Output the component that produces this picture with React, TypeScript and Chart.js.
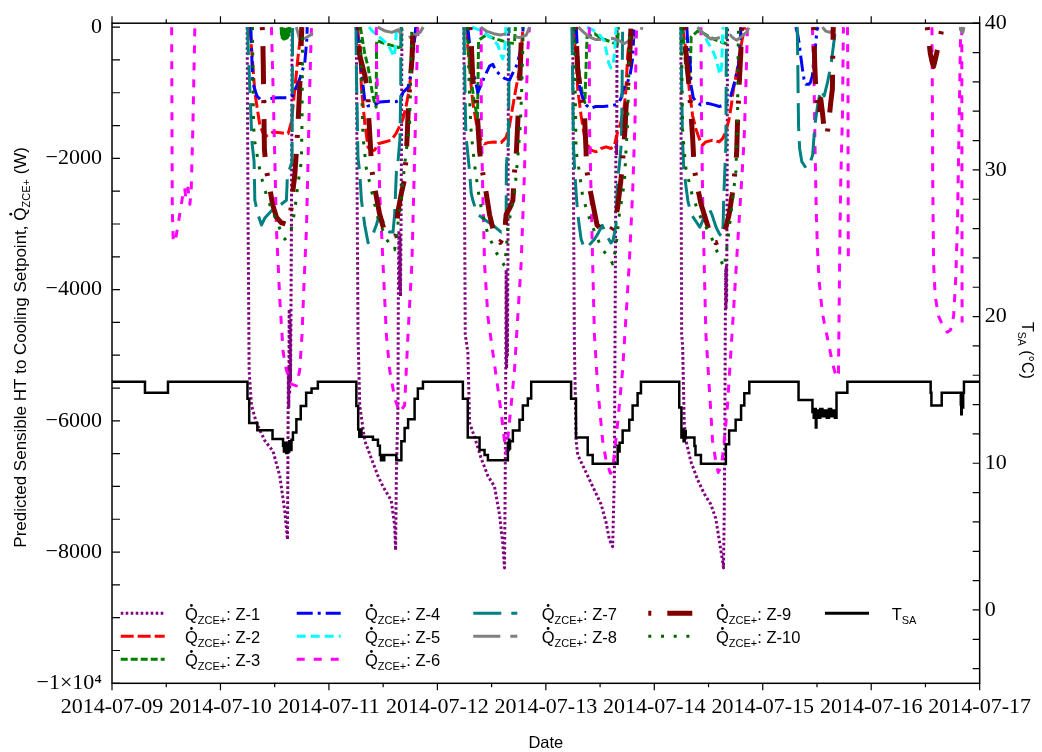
import React, { useEffect, useRef } from "react";
import { Chart, registerables } from "chart.js";
Chart.register(...registerables);

type Seg = number[][];

// ---------- axis categories / tick labels ----------
const dateLabels = ["2014-07-09", "2014-07-10", "2014-07-11", "2014-07-12", "2014-07-13", "2014-07-14", "2014-07-15", "2014-07-16", "2014-07-17"];
const dayTicks = [0, 1, 2, 3, 4, 5, 6, 7, 8];
const qTicks = [-10000, -8000, -6000, -4000, -2000, 0];
const tTicks = [0, 10, 20, 30, 40];

// ---------- series (x = days since 2014-07-09 00:00, y = W) ----------
const Z1: Seg[] = [
  [[1.246,0],[1.255,-3070],[1.264,-5225],[1.286,-5763],[1.332,-6033],[1.409,-6302],[1.485,-6464],[1.547,-6840],[1.593,-7379],[1.618,-7810],[1.622,-6500],[1.626,-5200],[1.63,-5800],[1.634,-4300],[1.638,-5600],[1.642,-4500],[1.646,-5400],[1.65,-4400],[1.654,-3070],[1.658,-1500],[1.66,0]],
  [[2.253,0],[2.26,-2500],[2.268,-4686],[2.284,-5763],[2.33,-6302],[2.391,-6571],[2.452,-6840],[2.499,-7002],[2.575,-7217],[2.606,-7594],[2.615,-7972],[2.622,-6840],[2.637,-5763],[2.64,-4100],[2.645,-3100],[2.65,-4000],[2.655,-3200],[2.66,-4100],[2.665,-3000],[2.67,-1454],[2.673,0]],
  [[3.244,0],[3.25,-2500],[3.257,-4686],[3.281,-4955],[3.297,-6033],[3.343,-6248],[3.404,-6571],[3.466,-6840],[3.527,-7002],[3.573,-7433],[3.603,-7864],[3.619,-8241],[3.625,-7000],[3.63,-5400],[3.634,-3700],[3.638,-5200],[3.642,-3900],[3.646,-5000],[3.65,-3700],[3.653,-2000],[3.655,0]],
  [[4.248,0],[4.255,-2500],[4.263,-4848],[4.279,-6302],[4.294,-6517],[4.34,-6679],[4.386,-6840],[4.448,-7056],[4.509,-7271],[4.555,-7541],[4.586,-7810],[4.616,-7918],[4.632,-6840],[4.638,-4686],[4.643,-3000],[4.646,-1800],[4.65,-1650],[4.653,-1950],[4.655,-1000],[4.656,0]],
  [[5.245,0],[5.248,-2500],[5.252,-4686],[5.261,-4848],[5.276,-6033],[5.292,-6302],[5.338,-6625],[5.399,-6894],[5.46,-7110],[5.521,-7271],[5.567,-7487],[5.598,-7810],[5.629,-8133],[5.638,-8241],[5.644,-7500],[5.65,-6302],[5.655,-4400],[5.658,-3700],[5.661,-4300],[5.664,-3650],[5.667,-4200],[5.67,-3000],[5.673,-1500],[5.675,0]],
];
const Z2: Seg[] = [
  [[1.271,0],[1.295,-500],[1.317,-995],[1.363,-1497],[1.409,-1674],[1.44,-1640],[1.485,-1598],[1.55,-1610],[1.624,-1624],[1.654,-1447],[1.685,-945],[1.716,-442],[1.747,0]],
  [[2.265,0],[2.284,-377],[2.3,-916],[2.33,-1454],[2.361,-1831],[2.391,-1885],[2.422,-1874],[2.452,-1777],[2.514,-1750],[2.575,-1723],[2.621,-1616],[2.652,-1508],[2.683,-1400],[2.714,-1185],[2.744,-916],[2.766,-485],[2.79,-162],[2.82,0]],
  [[3.27,0],[3.28,-300],[3.297,-600],[3.312,-900],[3.327,-1150],[3.358,-1450],[3.373,-1620],[3.404,-1720],[3.435,-1780],[3.466,-1760],[3.527,-1750],[3.588,-1760],[3.634,-1680],[3.665,-1500],[3.696,-1200],[3.726,-920],[3.757,-650],[3.772,-380],[3.787,-60],[3.79,0]],
  [[4.248,0],[4.279,-442],[4.294,-945],[4.325,-1347],[4.355,-1648],[4.386,-1799],[4.417,-1875],[4.463,-1900],[4.509,-1850],[4.555,-1825],[4.601,-1850],[4.632,-1799],[4.662,-1598],[4.693,-1447],[4.724,-1196],[4.739,-945],[4.754,-442],[4.769,-191],[4.8,0]],
  [[5.26,0],[5.291,-341],[5.322,-945],[5.353,-1347],[5.383,-1548],[5.414,-1699],[5.444,-1799],[5.475,-1749],[5.536,-1724],[5.598,-1749],[5.629,-1699],[5.659,-1598],[5.69,-1397],[5.71,-1196],[5.73,-945],[5.76,-693],[5.785,-442],[5.81,-191],[5.835,0]],
];
const Z3: Seg[] = [
  [[1.56,0],[1.563,-140],[1.566,-20],[1.569,-160],[1.572,-30],[1.575,-170],[1.578,-30],[1.581,-180],[1.584,-40],[1.587,-180],[1.59,-30],[1.593,-180],[1.596,-40],[1.599,-180],[1.602,-30],[1.605,-170],[1.608,-40],[1.611,-170],[1.614,-30],[1.617,-160],[1.62,-30],[1.623,-150],[1.626,-20],[1.629,-130],[1.632,-20],[1.635,-110],[1.64,0]],
  [[2.29,0],[2.31,-200],[2.33,-400],[2.36,-600],[2.38,-800],[2.4,-1000],[2.42,-1150],[2.435,-1220],[2.44,-200],[2.48,-230],[2.54,-260],[2.6,-290],[2.64,-310],[2.665,-300],[2.67,0]],
  [[3.275,0],[3.285,-300],[3.3,-600],[3.32,-900],[3.34,-1150],[3.36,-1300],[3.37,-1380],[3.38,-200],[3.45,-120],[3.52,-170],[3.6,-210],[3.67,-240],[3.71,-250],[3.72,0]],
  [[4.27,0],[4.28,-300],[4.3,-600],[4.32,-850],[4.34,-1050],[4.36,-1150],[4.38,-150],[4.45,-100],[4.5,-160],[4.56,-200],[4.62,-240],[4.66,-260],[4.67,0]],
  [[5.26,0],[5.27,-200],[5.28,-400],[5.29,-600],[5.31,-750],[5.33,-800],[5.34,-150],[5.4,-60],[5.45,-90],[5.5,-140],[5.56,-190],[5.62,-230],[5.66,-250],[5.67,0]],
];
const Z4: Seg[] = [
  [[1.28,0],[1.29,-500],[1.298,-850],[1.335,-1045],[1.39,-1150],[1.455,-1090],[1.519,-1075],[1.611,-1075],[1.667,-1045],[1.703,-895],[1.731,-790],[1.759,-640],[1.777,-550],[1.796,-190],[1.8,0]],
  [[2.25,0],[2.268,-190],[2.284,-442],[2.3,-700],[2.315,-900],[2.33,-1100],[2.36,-1200],[2.407,-1196],[2.468,-1140],[2.56,-1130],[2.621,-1136],[2.66,-1100],[2.683,-995],[2.729,-920],[2.76,-693],[2.775,-442],[2.79,-190],[2.8,0]],
  [[3.28,0],[3.3,-300],[3.327,-646],[3.373,-996],[3.435,-754],[3.481,-593],[3.511,-566],[3.542,-673],[3.619,-781],[3.665,-808],[3.695,-700],[3.726,-600],[3.757,-431],[3.787,-162],[3.79,0]],
  [[4.28,0],[4.29,-300],[4.31,-900],[4.34,-1080],[4.37,-1185],[4.41,-1240],[4.46,-1210],[4.53,-1210],[4.6,-1200],[4.65,-1180],[4.69,-1100],[4.72,-920],[4.75,-860],[4.78,-700],[4.8,-480],[4.81,-150],[4.815,0]],
  [[5.3,0],[5.31,-300],[5.33,-550],[5.34,-900],[5.36,-1080],[5.4,-1160],[5.43,-1185],[5.49,-1160],[5.55,-1185],[5.6,-1210],[5.64,-1185],[5.675,-1130],[5.7,-1080],[5.72,-960],[5.74,-840],[5.76,-700],[5.78,-540],[5.79,-270],[5.8,0]],
  [[6.305,0],[6.32,-90],[6.335,-240],[6.35,-440],[6.366,-640],[6.38,-790],[6.397,-870],[6.427,-870],[6.44,-840],[6.458,-740],[6.47,-490],[6.489,-240],[6.5,-40],[6.51,0]],
];
const Z5: Seg[] = [
  [[2.37,0],[2.4,-60],[2.45,-130],[2.5,-200],[2.55,-280],[2.58,-380],[2.6,-450],[2.61,-350],[2.62,-100],[2.625,0]],
  [[3.32,0],[3.404,-54],[3.496,-162],[3.557,-270],[3.588,-431],[3.603,-485],[3.619,-377],[3.628,-162],[3.632,0]],
  [[4.38,0],[4.44,-50],[4.5,-130],[4.54,-215],[4.56,-380],[4.58,-550],[4.6,-620],[4.62,-560],[4.635,-380],[4.645,-50],[4.65,0]],
  [[5.4,0],[5.45,-100],[5.5,-250],[5.55,-400],[5.58,-550],[5.6,-690],[5.61,-720],[5.62,-600],[5.625,-400],[5.63,-100],[5.635,0]],
];
const Z6: Seg[] = [
  [[0.55,0],[0.553,-1500],[0.556,-2800],[0.565,-3280],[0.585,-3250],[0.62,-2900],[0.654,-2550],[0.67,-2450],[0.681,-2600],[0.7,-2450],[0.718,-2700],[0.73,-2500],[0.746,-1500],[0.758,-500],[0.764,0]],
  [[1.47,0],[1.485,-916],[1.501,-2000],[1.516,-3070],[1.547,-4147],[1.578,-4955],[1.608,-5225],[1.654,-5440],[1.7,-5467],[1.731,-5225],[1.752,-4686],[1.771,-3878],[1.793,-3070],[1.808,-1993],[1.823,-916],[1.839,0]],
  [[2.437,0],[2.44,-600],[2.452,-1185],[2.468,-2530],[2.499,-3610],[2.53,-4690],[2.56,-5225],[2.607,-5656],[2.652,-5870],[2.698,-5763],[2.729,-4686],[2.765,-3609],[2.79,-1993],[2.806,-916],[2.82,0]],
  [[3.404,0],[3.405,-1454],[3.419,-2532],[3.435,-3609],[3.466,-4417],[3.511,-4955],[3.557,-5494],[3.588,-5871],[3.619,-6300],[3.635,-6500],[3.68,-5763],[3.711,-5225],[3.741,-4417],[3.772,-3609],[3.802,-2262],[3.818,-1185],[3.833,-377],[3.849,0]],
  [[4.401,0],[4.402,-1454],[4.417,-2532],[4.432,-3609],[4.448,-4686],[4.478,-5494],[4.524,-6302],[4.555,-6600],[4.595,-6800],[4.616,-6750],[4.662,-6033],[4.708,-5225],[4.739,-4417],[4.769,-3609],[4.8,-2532],[4.822,-1454],[4.831,-377],[4.837,0]],
  [[5.43,0],[5.436,-1454],[5.445,-2532],[5.46,-3609],[5.476,-4686],[5.507,-5494],[5.537,-6302],[5.568,-6625],[5.59,-6787],[5.62,-6679],[5.645,-6302],[5.675,-5763],[5.706,-4955],[5.737,-4147],[5.767,-3340],[5.798,-2532],[5.828,-1723],[5.844,-916],[5.859,0]],
  [[6.458,0],[6.473,-844],[6.482,-1850],[6.494,-2855],[6.504,-3357],[6.519,-3860],[6.55,-4363],[6.581,-4614],[6.612,-4866],[6.642,-5117],[6.667,-5268],[6.679,-5343],[6.698,-5268],[6.704,-4363],[6.71,-3357],[6.719,-2352],[6.735,-1347],[6.741,-341],[6.744,0]],
  [[6.781,0],[6.786,-800],[6.787,-2300],[6.788,-3000],[6.789,-3500]],
  [[7.56,0],[7.563,-800],[7.567,-2300],[7.575,-3600],[7.59,-4100],[7.62,-4400],[7.66,-4550],[7.7,-4650],[7.73,-4620],[7.76,-4400],[7.78,-3800],[7.795,-3000],[7.805,-2000],[7.815,-1000],[7.822,-300],[7.825,0]],
  [[7.835,0],[7.836,-1500],[7.837,-3000],[7.838,-4500]],
];
const Z7: Seg[] = [
  [[1.25,0],[1.255,-300],[1.27,-900],[1.282,-1400],[1.292,-1777],[1.31,-2047],[1.317,-2639],[1.345,-2850],[1.378,-3016],[1.409,-2909],[1.485,-2774],[1.516,-2747],[1.56,-2700],[1.608,-2639],[1.618,-2236],[1.639,-2155],[1.66,-2050],[1.662,-1000],[1.665,0]],
  [[2.25,0],[2.253,-646],[2.268,-1993],[2.284,-2209],[2.3,-2639],[2.33,-3016],[2.361,-3286],[2.407,-3151],[2.437,-3016],[2.468,-2855],[2.499,-2963],[2.53,-3070],[2.56,-3124],[2.591,-3124],[2.606,-2855],[2.622,-2209],[2.637,-2047],[2.655,-1700],[2.662,-1000],[2.664,0]],
  [[3.245,0],[3.25,-500],[3.26,-1454],[3.265,-1670],[3.281,-1939],[3.297,-2209],[3.312,-2532],[3.327,-2639],[3.358,-2801],[3.373,-2855],[3.45,-2950],[3.511,-3016],[3.588,-3124],[3.61,-3080],[3.619,-2963],[3.634,-2855],[3.636,-2155],[3.643,-1939],[3.655,-1724],[3.66,-800],[3.662,0]],
  [[4.24,0],[4.245,-500],[4.25,-1200],[4.255,-1800],[4.265,-2150],[4.28,-2550],[4.295,-2850],[4.31,-3050],[4.325,-3230],[4.355,-3370],[4.4,-3320],[4.45,-3230],[4.48,-3150],[4.52,-3020],[4.54,-3100],[4.57,-3200],[4.6,-3290],[4.62,-3250],[4.647,-3016],[4.656,-2532],[4.662,-2316],[4.678,-2101],[4.693,-1831],[4.699,-1562],[4.705,-600],[4.708,0]],
  [[5.245,0],[5.25,-600],[5.255,-1200],[5.26,-1700],[5.27,-2100],[5.29,-2400],[5.31,-2650],[5.34,-2850],[5.38,-2950],[5.42,-3050],[5.46,-2900],[5.5,-2750],[5.53,-2850],[5.57,-3050],[5.6,-3150],[5.625,-3200],[5.635,-3000],[5.64,-2600],[5.65,-2200],[5.66,-1800],[5.665,0]],
  [[6.318,0],[6.322,-400],[6.326,-1000],[6.33,-1500],[6.34,-1850],[6.36,-2050],[6.4,-2150],[6.43,-2100],[6.46,-1950],[6.48,-1500],[6.505,-1200],[6.535,-950],[6.566,-1050],[6.596,-850],[6.627,-600],[6.658,-200],[6.673,0]],
];
const Z8: Seg[] = [
  [[1.7,0],[1.73,-180],[1.78,-170],[1.83,-120],[1.88,-40],[1.89,0]],
  [[2.45,0],[2.52,-60],[2.58,-80],[2.64,-40],[2.68,-150],[2.72,-170],[2.78,-130],[2.84,-80],[2.87,0]],
  [[3.4,0],[3.45,-60],[3.52,-100],[3.58,-120],[3.64,-100],[3.7,-140],[3.76,-160],[3.82,-120],[3.85,0]],
  [[4.3,0],[4.35,-80],[4.4,-150],[4.46,-190],[4.54,-190],[4.62,-170],[4.68,-210],[4.72,-250],[4.78,-200],[4.83,-130],[4.88,-60],[4.885,0]],
  [[5.4,0],[5.43,-60],[5.47,-120],[5.52,-180],[5.58,-170],[5.64,-140],[5.7,-120],[5.73,-170],[5.76,-200],[5.8,-150],[5.85,-80],[5.875,0]],
  [[6.55,0],[6.58,-60],[6.62,-80],[6.65,-40],[6.66,0]],
  [[7.82,0],[7.83,-60],[7.845,-80],[7.855,0]],
];
const Z9: Seg[] = [
  [[1.385,0],[1.39,-140],[1.395,-600],[1.4,-1200],[1.405,-1850],[1.42,-2150],[1.45,-2400],[1.48,-2700],[1.517,-2900],[1.56,-2980],[1.6,-3000],[1.64,-2960],[1.66,-2600],[1.685,-2260],[1.7,-1900],[1.716,-1450],[1.731,-910],[1.747,-150],[1.75,0]],
  [[2.27,0],[2.284,-431],[2.33,-727],[2.361,-996],[2.362,-1239],[2.386,-1885],[2.391,-2128],[2.416,-2397],[2.468,-2855],[2.514,-3124],[2.57,-3200],[2.618,-3178],[2.637,-2801],[2.668,-2532],[2.698,-2316],[2.714,-1912],[2.723,-1616],[2.729,-1347],[2.744,-916],[2.766,-485],[2.775,0]],
  [[3.3,0],[3.312,-215],[3.327,-808],[3.358,-1077],[3.373,-1454],[3.389,-1885],[3.404,-2101],[3.435,-2370],[3.481,-2855],[3.527,-3178],[3.58,-3280],[3.619,-3178],[3.634,-2855],[3.67,-2750],[3.696,-2639],[3.711,-2209],[3.726,-1993],[3.741,-1454],[3.757,-916],[3.766,-539],[3.778,0]],
  [[4.27,0],[4.279,-108],[4.294,-646],[4.325,-1077],[4.355,-1293],[4.371,-1885],[4.375,-2155],[4.401,-2424],[4.472,-3016],[4.524,-3097],[4.58,-3150],[4.631,-3016],[4.662,-2747],[4.693,-2316],[4.699,-2209],[4.723,-1724],[4.73,-1562],[4.739,-1239],[4.754,-916],[4.77,-539],[4.785,0]],
  [[5.28,0],[5.292,-377],[5.307,-646],[5.33,-1100],[5.353,-1670],[5.368,-2155],[5.4,-2450],[5.43,-2693],[5.521,-3178],[5.567,-3286],[5.63,-3250],[5.69,-2855],[5.72,-2532],[5.735,-2316],[5.752,-2101],[5.76,-1885],[5.767,-1454],[5.785,-800],[5.798,-377],[5.805,0]],
  [[6.47,0],[6.475,-300],[6.48,-600],[6.489,-945],[6.504,-1196],[6.519,-1347],[6.535,-1096],[6.55,-1297],[6.566,-1548],[6.581,-1648],[6.596,-1598],[6.612,-1397],[6.627,-1146],[6.642,-945],[6.645,-500],[6.65,0]],
  [[7.517,0],[7.53,-200],[7.545,-400],[7.56,-520],[7.575,-600],[7.59,-500],[7.61,-350],[7.63,-200],[7.655,0]],
];
const Z10: Seg[] = [
  [[1.295,0],[1.3,-800],[1.305,-1500],[1.317,-1750],[1.332,-1885],[1.347,-2047],[1.378,-2289],[1.409,-2478],[1.44,-2639],[1.485,-2828],[1.547,-3070],[1.593,-3232],[1.624,-3178],[1.654,-3070],[1.685,-2801],[1.7,-2586],[1.716,-2370],[1.746,-2047],[1.752,-1454],[1.755,-700],[1.757,0]],
  [[2.29,0],[2.3,-800],[2.314,-1669],[2.345,-2155],[2.391,-2478],[2.452,-2909],[2.529,-3232],[2.606,-3393],[2.622,-3178],[2.66,-2700],[2.698,-2101],[2.729,-1669],[2.744,-1454],[2.76,-377],[2.765,0]],
  [[3.28,0],[3.29,-700],[3.3,-1200],[3.312,-1616],[3.343,-2101],[3.389,-2639],[3.45,-3070],[3.527,-3393],[3.619,-3636],[3.635,-3400],[3.649,-3070],[3.68,-2800],[3.711,-2532],[3.741,-1993],[3.766,-1454],[3.778,-916],[3.787,-377],[3.79,0]],
  [[4.265,0],[4.27,-900],[4.279,-1885],[4.309,-2209],[4.34,-2586],[4.401,-2909],[4.463,-3178],[4.524,-3393],[4.601,-3555],[4.616,-3609],[4.647,-3340],[4.678,-2855],[4.724,-2370],[4.739,-1885],[4.754,-1454],[4.77,-377],[4.775,0]],
  [[5.25,0],[5.255,-800],[5.261,-1562],[5.276,-1885],[5.292,-2155],[5.353,-2586],[5.43,-2909],[5.521,-3178],[5.598,-3501],[5.644,-3663],[5.675,-3286],[5.706,-2855],[5.736,-2424],[5.752,-2209],[5.767,-1454],[5.773,-377],[5.776,0]],
];
// supply-air temperature (x = day, y = °C), each value holds until the next x
const TSA: number[][] = [
  [0,15.55],[0.304,14.8],[0.516,15.55],
  [1.249,14.4],[1.265,12.75],[1.34,12.25],[1.48,11.65],[1.577,11.2],[1.585,10.8],[1.595,11.4],[1.605,10.7],[1.615,11.3],[1.625,10.8],[1.635,11.5],[1.645,10.9],[1.655,11.6],[1.668,12.1],[1.7,13.0],[1.74,13.9],[1.79,14.8],[1.84,15.1],[1.898,15.55],
  [2.253,13.9],[2.27,12.3],[2.28,11.8],[2.29,12.3],[2.3,11.8],[2.406,11.6],[2.452,11.2],[2.47,10.56],[2.48,10.2],[2.49,10.56],[2.5,10.2],[2.51,10.56],[2.621,10.2],[2.668,11.5],[2.698,12.4],[2.73,13.0],[2.79,14.4],[2.82,15.1],[2.867,15.55],
  [3.235,14.4],[3.28,11.76],[3.389,10.9],[3.435,10.56],[3.466,10.2],[3.65,11.4],[3.655,10.9],[3.66,11.6],[3.665,11.0],[3.67,11.5],[3.696,12.24],[3.757,12.97],[3.788,13.93],[3.834,14.42],[3.865,15.55],
  [4.233,14.4],[4.278,11.76],[4.386,10.56],[4.432,9.96],[4.662,11.2],[4.67,10.8],[4.68,11.4],[4.708,12.24],[4.769,12.97],[4.8,13.93],[4.846,14.78],[4.877,15.55],
  [5.23,13.8],[5.25,11.76],[5.26,12.3],[5.27,11.5],[5.28,12.2],[5.29,11.76],[5.37,11.17],[5.38,10.56],[5.43,9.96],[5.66,11.3],[5.69,12.24],[5.75,12.97],[5.8,13.93],[5.83,14.78],[5.876,15.55],
  [6.33,14.31],[6.458,13.5],[6.47,13.1],[6.48,13.7],[6.489,12.44],[6.495,13.6],[6.51,13.1],[6.53,13.7],[6.55,13.2],[6.57,13.6],[6.59,13.1],[6.61,13.7],[6.63,13.2],[6.65,13.6],[6.665,13.1],[6.68,14.8],[6.78,15.55],
  [7.548,14.8],[7.555,13.94],[7.65,14.8],[7.826,14.0],[7.83,13.34],[7.835,14.6],[7.84,13.8],[7.848,14.8],[7.855,15.55],[8,15.55],
];

const zoneSeries = [Z1, Z2, Z3, Z4, Z5, Z6, Z7, Z8, Z9, Z10];
const zoneNames = ["Z-1", "Z-2", "Z-3", "Z-4", "Z-5", "Z-6", "Z-7", "Z-8", "Z-9", "Z-10"];

// ---------- styles ----------
const zoneColors = ["#800080", "#ff0000", "#008000", "#0000ff", "#00ffff", "#ff00ff", "#008080", "#808080", "#800000", "#006400"];
const zoneDash = [[2.6, 2.4], [13, 4], [7, 3], [16, 5, 3, 5], [9, 5], [8, 9], [28, 10], [27, 10], [3, 16, 38, 16], [3, 9.7]];
const zoneWidth = [3, 3, 3, 3, 3, 3, 3, 3, 5, 3];
const SERIF = "'Liberation Serif', 'Times New Roman', serif";
const SANS = "'Liberation Sans', Arial, sans-serif";

function toPoints(segs: Seg[]) {
  const pts: { x: number; y: number | null }[] = [];
  segs.forEach((s, i) => {
    if (i > 0) pts.push({ x: (segs[i - 1][segs[i - 1].length - 1][0] + s[0][0]) / 2, y: null });
    s.forEach(([x, y]) => pts.push({ x, y }));
  });
  return pts;
}

function drawQ(ctx: CanvasRenderingContext2D, x: number, y: number, suffix: string, main: number, sub: number) {
  ctx.font = `${main}px ${SANS}`;
  ctx.fillText("Q", x, y);
  const qw = ctx.measureText("Q").width;
  ctx.beginPath();
  ctx.arc(x + qw / 2, y - main * 0.716 - 3, Math.max(1.2, main * 0.085), 0, Math.PI * 2);
  ctx.fill();
  let cx = x + qw;
  ctx.font = `${sub}px ${SANS}`;
  ctx.fillText("ZCE+", cx, y + main * 0.25);
  cx += ctx.measureText("ZCE+").width;
  ctx.font = `${main}px ${SANS}`;
  ctx.fillText(suffix, cx, y);
  return cx + ctx.measureText(suffix).width - x;
}

function widthQ(ctx: CanvasRenderingContext2D, prefix: string, suffix: string, main: number, sub: number) {
  ctx.font = `${main}px ${SANS}`;
  let w = ctx.measureText(prefix + "Q" + suffix).width;
  ctx.font = `${sub}px ${SANS}`;
  w += ctx.measureText("ZCE+").width;
  return w;
}

const legendCols = [
  { lx: 120.7, tx: 185, items: [0, 1, 2] },
  { lx: 296.7, tx: 365, items: [3, 4, 5] },
  { lx: 473.3, tx: 541.7, items: [6, 7] },
  { lx: 648.3, tx: 716, items: [8, 9] },
  { lx: 825, tx: 891.7, items: [10] },
];
const legendRows = [613.3, 636.3, 659.3];

const framePlugin = {
  id: "frame",
  afterDraw(chart: any) {
    const { ctx, chartArea: a, scales } = chart;
    ctx.save();
    ctx.strokeStyle = "#000";
    ctx.fillStyle = "#000";
    ctx.setLineDash([]);
    ctx.lineWidth = 1.5;
    ctx.strokeRect(a.left, a.top, a.right - a.left, a.bottom - a.top);
    ctx.lineWidth = 1.2;
    ctx.beginPath();
    for (let d = 0; d <= 8; d += 0.5) {
      const px = scales.x.getPixelForValue(d);
      const major = Number.isInteger(d);
      ctx.moveTo(px, a.bottom);
      ctx.lineTo(px, a.bottom + (major ? 7 : 4));
      ctx.moveTo(px, a.top);
      ctx.lineTo(px, a.top - (major ? 7 : 4));
    }
    for (let v = -10000; v <= 0; v += 500) {
      const py = scales.y.getPixelForValue(v);
      ctx.moveTo(a.left, py);
      ctx.lineTo(a.left + 8, py);
    }
    for (let v = -4; v <= 40; v += 2) {
      const py = scales.y2.getPixelForValue(v);
      ctx.moveTo(a.right, py);
      ctx.lineTo(a.right - 7, py);
    }
    ctx.stroke();

    // legend
    ctx.textBaseline = "alphabetic";
    ctx.textAlign = "left";
    legendCols.forEach((col) => {
      col.items.forEach((idx, r) => {
        const y = legendRows[r];
        ctx.beginPath();
        if (idx < 10) {
          ctx.strokeStyle = zoneColors[idx];
          ctx.lineWidth = zoneWidth[idx];
          ctx.setLineDash(zoneDash[idx]);
        } else {
          ctx.strokeStyle = "#000";
          ctx.lineWidth = 3;
          ctx.setLineDash([]);
        }
        ctx.lineCap = "butt";
        ctx.moveTo(col.lx, y);
        ctx.lineTo(col.lx + 44, y);
        ctx.stroke();
        ctx.setLineDash([]);
        ctx.fillStyle = "#000";
        if (idx < 10) {
          drawQ(ctx, col.tx, y + 7, ": " + zoneNames[idx], 16.5, 11);
        } else {
          ctx.font = `16.5px ${SANS}`;
          ctx.fillText("T", col.tx, y + 7);
          const tw = ctx.measureText("T").width;
          ctx.font = `11px ${SANS}`;
          ctx.fillText("SA", col.tx + tw, y + 11);
        }
      });
    });

    // left axis title
    const pre = "Predicted Sensible HT to Cooling Setpoint, ";
    const tw = widthQ(ctx, pre, " (W)", 17, 11);
    ctx.save();
    ctx.translate(26, 147 + tw);
    ctx.rotate(-Math.PI / 2);
    ctx.font = `17px ${SANS}`;
    ctx.fillText(pre, 0, 0);
    const pw = ctx.measureText(pre).width;
    drawQ(ctx, pw, 0, " (W)", 17, 11);
    ctx.restore();

    // right axis title
    ctx.save();
    ctx.translate(1022, 322);
    ctx.rotate(Math.PI / 2);
    ctx.font = `16px ${SANS}`;
    ctx.fillText("T", 0, 0);
    let cx = ctx.measureText("T").width;
    ctx.font = `10.5px ${SANS}`;
    ctx.fillText("SA", cx, 4);
    cx += ctx.measureText("SA").width;
    ctx.font = `16px ${SANS}`;
    ctx.fillText(" (°C)", cx, 0);
    ctx.restore();

    // x axis title
    ctx.textAlign = "center";
    ctx.font = `16.5px ${SANS}`;
    ctx.fillText("Date", (a.left + a.right) / 2, 748);
    ctx.restore();
  },
};

export default function App() {
  const ref = useRef<HTMLCanvasElement>(null);
  useEffect(() => {
    const canvas = ref.current;
    if (!canvas) return;
    const datasets: any[] = zoneSeries.map((segs, i) => ({
      label: zoneNames[i],
      data: toPoints(segs),
      yAxisID: "y",
      borderColor: zoneColors[i],
      borderWidth: zoneWidth[i],
      borderDash: zoneDash[i],
      borderCapStyle: "butt",
      borderJoinStyle: "round",
      pointRadius: 0,
      fill: false,
      spanGaps: false,
      tension: 0,
      order: 10 - i,
    }));
    datasets.push({
      label: "TSA",
      data: TSA.map(([x, y]) => ({ x, y })),
      yAxisID: "y2",
      borderColor: "#000",
      borderWidth: 2.5,
      pointRadius: 0,
      fill: false,
      stepped: "before",
      tension: 0,
      order: 0,
    });
    const tickFont = { family: SERIF, size: 22 };
    const chart = new Chart(canvas, {
      type: "line",
      data: { datasets },
      options: {
        animation: false,
        responsive: false,
        devicePixelRatio: 1,
        layout: { padding: { top: 16.7, left: 0, right: 0, bottom: 0 } },
        plugins: { legend: { display: false }, tooltip: { enabled: false } },
        scales: {
          x: {
            type: "linear",
            position: "bottom",
            min: 0,
            max: 8,
            afterBuildTicks: (s: any) => { s.ticks = dayTicks.map((v) => ({ value: v })); },
            afterFit: (s: any) => { s.height = 752 - 683.3; },
            grid: { display: false, drawTicks: false },
            border: { display: false },
            ticks: {
              autoSkip: false, maxRotation: 0, minRotation: 0, padding: 11, color: "#000", font: tickFont,
              callback: (v: any) => dateLabels[dayTicks.indexOf(Number(v))] ?? "",
            },
          },
          y: {
            type: "linear",
            position: "left",
            min: -10000,
            max: 60,
            afterBuildTicks: (s: any) => { s.ticks = qTicks.map((v) => ({ value: v })); },
            afterFit: (s: any) => { s.width = 112; },
            grid: { display: false, drawTicks: false },
            border: { display: false },
            ticks: {
              padding: 10, color: "#000", font: tickFont,
              callback: (v: any) => (v === -10000 ? "\u22121\u00d710\u2074" : v === 0 ? "0" : "\u2212" + Math.abs(v)),
            },
          },
          y2: {
            type: "linear",
            position: "right",
            min: -5,
            max: 40,
            afterBuildTicks: (s: any) => { s.ticks = tTicks.map((v) => ({ value: v })); },
            afterFit: (s: any) => { s.width = 1042 - 981; },
            grid: { display: false, drawTicks: false },
            border: { display: false },
            ticks: { padding: 5, color: "#000", font: tickFont, callback: (v: any) => String(v) },
          },
        },
      } as any,
      plugins: [framePlugin],
    });
    return () => chart.destroy();
  }, []);
  return (
    <div style={{ position: "fixed", left: 0, top: 0, width: 1042, height: 752, background: "#fff" }}>
      <canvas ref={ref} width={1042} height={752} style={{ display: "block", width: 1042, height: 752 }} />
    </div>
  );
}
